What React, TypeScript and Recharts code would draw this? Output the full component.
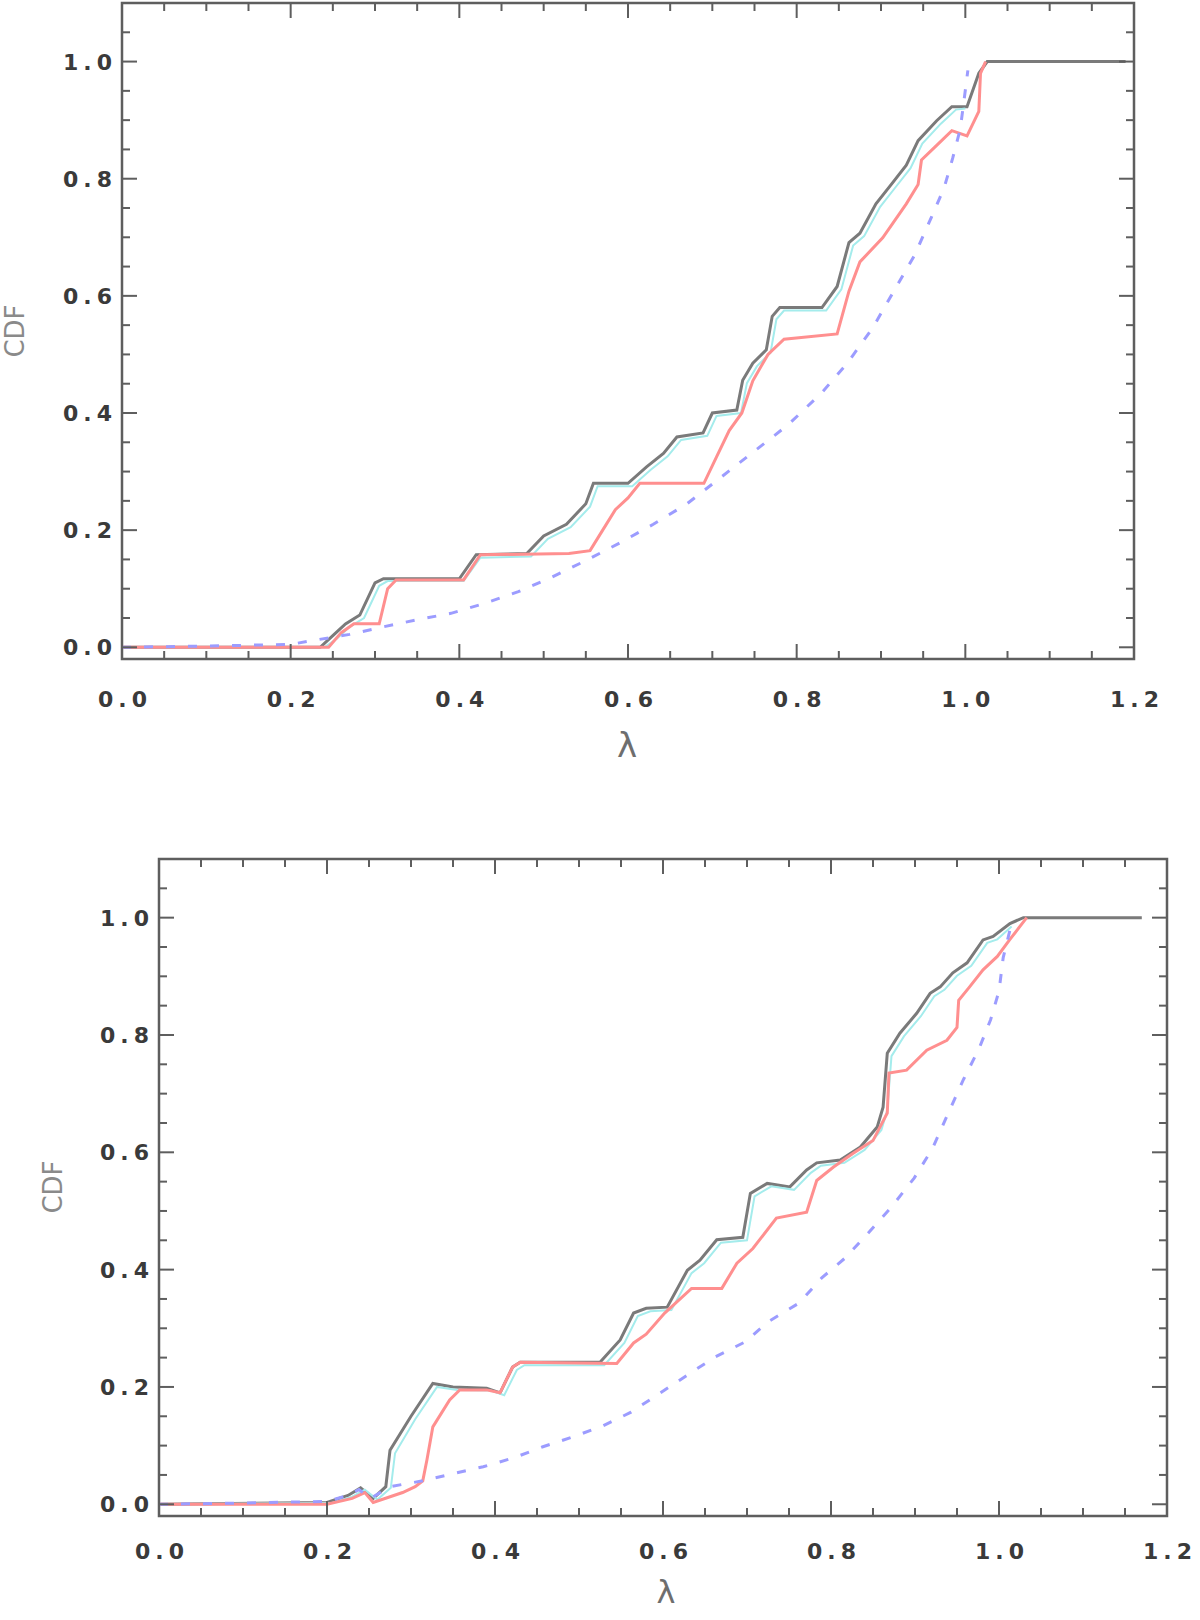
import { Line, LineChart, ReferenceArea, XAxis, YAxis } from 'recharts'

type Pt = { x: number; y: number }

// tick positions and labels (shared by both panels)
const xMajor = [0, 0.2, 0.4, 0.6, 0.8, 1.0, 1.2]
const xLabels = ['0.0', '0.2', '0.4', '0.6', '0.8', '1.0', '1.2']
const xTicks = [
  0, 0.05, 0.1, 0.15, 0.2, 0.25, 0.3, 0.35, 0.4, 0.45, 0.5, 0.55, 0.6, 0.65, 0.7, 0.75, 0.8, 0.85, 0.9,
  0.95, 1.0, 1.05, 1.1, 1.15, 1.2,
]
const yMajor = [0, 0.2, 0.4, 0.6, 0.8, 1.0]
const yLabels = ['0.0', '0.2', '0.4', '0.6', '0.8', '1.0']
const yTicks = [
  0, 0.05, 0.1, 0.15, 0.2, 0.25, 0.3, 0.35, 0.4, 0.45, 0.5, 0.55, 0.6, 0.65, 0.7, 0.75, 0.8, 0.85, 0.9,
  0.95, 1.0, 1.05,
]

const pts = (a: number[][]): Pt[] => a.map(([x, y]) => ({ x, y }))

// upper panel
const topBlack = pts([
  [0, 0], [0.235, 0], [0.25, 0.02], [0.265, 0.04], [0.282, 0.055], [0.3, 0.11], [0.31, 0.117],
  [0.4, 0.117], [0.42, 0.158], [0.48, 0.16], [0.5, 0.19], [0.527, 0.21], [0.55, 0.245], [0.559, 0.28],
  [0.6, 0.28], [0.622, 0.308], [0.642, 0.331], [0.658, 0.359], [0.689, 0.366], [0.7, 0.4], [0.729, 0.405],
  [0.736, 0.456], [0.748, 0.485], [0.764, 0.508], [0.771, 0.565], [0.78, 0.58], [0.83, 0.58],
  [0.848, 0.616], [0.862, 0.691], [0.875, 0.707], [0.894, 0.757], [0.912, 0.79], [0.93, 0.823],
  [0.944, 0.865], [0.966, 0.899], [0.984, 0.923], [1.002, 0.923], [1.016, 0.98], [1.026, 1.0], [1.19, 1.0],
])
const topCyan = pts([
  [0, 0], [0.24, 0], [0.255, 0.015], [0.27, 0.035], [0.287, 0.05], [0.305, 0.105], [0.315, 0.113],
  [0.405, 0.113], [0.425, 0.153], [0.485, 0.155], [0.505, 0.185], [0.532, 0.205], [0.555, 0.24],
  [0.564, 0.275], [0.605, 0.275], [0.627, 0.303], [0.647, 0.326], [0.663, 0.354], [0.694, 0.361],
  [0.705, 0.395], [0.734, 0.4], [0.741, 0.451], [0.753, 0.48], [0.769, 0.503], [0.776, 0.56],
  [0.785, 0.575], [0.835, 0.575], [0.853, 0.611], [0.867, 0.686], [0.88, 0.702], [0.899, 0.752],
  [0.917, 0.785], [0.935, 0.818], [0.949, 0.86], [0.971, 0.894], [0.989, 0.918], [1.0, 0.92],
])
const topRed = pts([
  [0, 0], [0.245, 0], [0.26, 0.025], [0.275, 0.04], [0.305, 0.04], [0.315, 0.1], [0.325, 0.115],
  [0.405, 0.115], [0.425, 0.158], [0.53, 0.16], [0.555, 0.165], [0.57, 0.2], [0.585, 0.235], [0.6, 0.255],
  [0.614, 0.28], [0.69, 0.28], [0.705, 0.325], [0.72, 0.37], [0.735, 0.4], [0.748, 0.455], [0.766, 0.5],
  [0.785, 0.526], [0.848, 0.535], [0.862, 0.608], [0.875, 0.658], [0.902, 0.699], [0.93, 0.757],
  [0.944, 0.79], [0.948, 0.832], [0.966, 0.857], [0.984, 0.882], [1.002, 0.873], [1.016, 0.915],
  [1.018, 0.98], [1.024, 1.0],
])
const topBlue = pts([
  [0, 0], [0.1, 0.002], [0.2, 0.005], [0.232, 0.013], [0.27, 0.022], [0.31, 0.035], [0.35, 0.047],
  [0.39, 0.058], [0.43, 0.075], [0.47, 0.095], [0.51, 0.12], [0.55, 0.148], [0.59, 0.178], [0.63, 0.21],
  [0.67, 0.245], [0.71, 0.29], [0.75, 0.335], [0.79, 0.38], [0.83, 0.435], [0.86, 0.485], [0.89, 0.545],
  [0.92, 0.62], [0.94, 0.67], [0.96, 0.735], [0.975, 0.785], [0.985, 0.835], [0.994, 0.885],
  [0.999, 0.94], [1.003, 0.985],
])

// lower panel
const botBlack = pts([
  [0, 0], [0.2, 0.003], [0.225, 0.015], [0.24, 0.028], [0.255, 0.01], [0.27, 0.03], [0.275, 0.092],
  [0.3, 0.15], [0.326, 0.206], [0.35, 0.2], [0.39, 0.198], [0.406, 0.19], [0.421, 0.234], [0.43, 0.242],
  [0.525, 0.242], [0.549, 0.28], [0.565, 0.326], [0.58, 0.334], [0.605, 0.336], [0.629, 0.399],
  [0.644, 0.416], [0.664, 0.451], [0.695, 0.455], [0.704, 0.53], [0.724, 0.547], [0.751, 0.541],
  [0.771, 0.57], [0.783, 0.582], [0.811, 0.587], [0.835, 0.609], [0.855, 0.643], [0.862, 0.677],
  [0.867, 0.769], [0.882, 0.803], [0.902, 0.837], [0.918, 0.871], [0.93, 0.882], [0.945, 0.906],
  [0.962, 0.923], [0.981, 0.962], [0.993, 0.968], [1.013, 0.99], [1.029, 1.0], [1.17, 1.0],
])
const botCyan = pts([
  [0, 0], [0.205, 0.002], [0.23, 0.013], [0.245, 0.025], [0.26, 0.008], [0.276, 0.028], [0.281, 0.087],
  [0.305, 0.145], [0.331, 0.2], [0.355, 0.195], [0.395, 0.194], [0.411, 0.186], [0.426, 0.229],
  [0.435, 0.237], [0.53, 0.237], [0.554, 0.275], [0.57, 0.321], [0.585, 0.329], [0.61, 0.331],
  [0.634, 0.394], [0.649, 0.411], [0.669, 0.446], [0.7, 0.45], [0.709, 0.525], [0.729, 0.542],
  [0.756, 0.536], [0.776, 0.565], [0.788, 0.577], [0.816, 0.582], [0.84, 0.604], [0.86, 0.638],
  [0.867, 0.672], [0.872, 0.764], [0.887, 0.798], [0.907, 0.832], [0.923, 0.866], [0.935, 0.877],
  [0.95, 0.901], [0.967, 0.918], [0.986, 0.957], [0.998, 0.963], [1.015, 0.985],
])
const botRed = pts([
  [0, 0], [0.2, 0], [0.23, 0.01], [0.245, 0.02], [0.255, 0.003], [0.29, 0.02], [0.305, 0.03],
  [0.314, 0.04], [0.319, 0.076], [0.326, 0.132], [0.346, 0.178], [0.358, 0.195], [0.39, 0.195],
  [0.406, 0.19], [0.421, 0.234], [0.43, 0.242], [0.545, 0.24], [0.565, 0.275], [0.58, 0.29],
  [0.602, 0.326], [0.634, 0.368], [0.67, 0.368], [0.688, 0.411], [0.707, 0.436], [0.735, 0.488],
  [0.771, 0.498], [0.783, 0.552], [0.803, 0.575], [0.826, 0.598], [0.85, 0.62], [0.867, 0.667],
  [0.869, 0.735], [0.89, 0.74], [0.914, 0.774], [0.938, 0.791], [0.95, 0.813], [0.952, 0.859],
  [0.965, 0.882], [0.981, 0.911], [0.998, 0.934], [1.013, 0.963], [1.033, 1.0],
])
const botBlue = pts([
  [0, 0], [0.1, 0.002], [0.2, 0.005], [0.225, 0.015], [0.238, 0.025], [0.252, 0.01], [0.275, 0.03],
  [0.314, 0.04], [0.35, 0.052], [0.386, 0.064], [0.422, 0.079], [0.457, 0.098], [0.493, 0.115],
  [0.529, 0.134], [0.562, 0.157], [0.598, 0.191], [0.634, 0.225], [0.662, 0.251], [0.698, 0.277],
  [0.725, 0.311], [0.762, 0.343], [0.789, 0.386], [0.817, 0.42], [0.844, 0.462], [0.871, 0.505],
  [0.899, 0.556], [0.921, 0.607], [0.939, 0.665], [0.958, 0.725], [0.976, 0.776], [0.99, 0.826],
  [1.0, 0.875], [1.005, 0.932], [1.015, 0.99],
])

const AXIS = '#5e5e5e'
const LABEL = '#3a3a3a'
const MAJOR = 15
const MINOR = 8
const FONT = '"DejaVu Sans", sans-serif'

function isMajor(list: number[], v: number) {
  return list.findIndex((m) => Math.abs(m - v) < 1e-6)
}

function makeXTick(plotH: number, labelDy: number) {
  return (p: any) => {
    const x = p.x ?? 0
    const y = p.y ?? 0
    const v = p.payload?.value ?? 0
    const i = isMajor(xMajor, v)
    const len = i >= 0 ? MAJOR : MINOR
    return (
      <g>
        <line x1={x} y1={y} x2={x} y2={y - len} stroke={AXIS} strokeWidth={2} />
        <line x1={x} y1={y - plotH} x2={x} y2={y - plotH + len} stroke={AXIS} strokeWidth={2} />
        {i >= 0 && (
          <text
            x={x + 3}
            y={y + labelDy}
            textAnchor="middle"
            fontFamily={FONT}
            fontWeight={700}
            fontSize={22}
            letterSpacing={5}
            fill={LABEL}
          >
            {xLabels[i]}
          </text>
        )}
      </g>
    )
  }
}

function makeYTick(plotW: number) {
  return (p: any) => {
    const x = p.x ?? 0
    const y = p.y ?? 0
    const v = p.payload?.value ?? 0
    const i = isMajor(yMajor, v)
    const len = i >= 0 ? MAJOR : MINOR
    return (
      <g>
        <line x1={x} y1={y} x2={x + len} y2={y} stroke={AXIS} strokeWidth={2} />
        <line x1={x + plotW} y1={y} x2={x + plotW - len} y2={y} stroke={AXIS} strokeWidth={2} />
        {i >= 0 && (
          <text
            x={x - 5}
            y={y + 8}
            textAnchor="end"
            fontFamily={FONT}
            fontWeight={700}
            fontSize={22}
            letterSpacing={5}
            fill={LABEL}
          >
            {yLabels[i]}
          </text>
        )}
      </g>
    )
  }
}

// margin = outer edges of the plot box; axes take 1px so that recharts draws their ticks
function Panel(props: {
  top: number
  height: number
  margin: { top: number; right: number; bottom: number; left: number }
  labelDy: number
  black: Pt[]
  cyan: Pt[]
  red: Pt[]
  blue: Pt[]
}) {
  const W = 1200
  const m = props.margin
  const plotW = W - m.left - m.right
  const plotH = props.height - m.top - m.bottom
  return (
    <div style={{ position: 'absolute', left: 0, top: props.top }}>
      <LineChart
        width={W}
        height={props.height}
        margin={{ top: m.top, right: m.right, bottom: m.bottom - 1, left: m.left - 1 }}
      >
        <XAxis
          dataKey="x"
          type="number"
          domain={[0, 1.2]}
          ticks={xTicks}
          interval={0}
          allowDataOverflow
          height={1}
          tickSize={0}
          tickMargin={0}
          axisLine={false}
          tick={makeXTick(plotH, props.labelDy)}
        />
        <YAxis
          type="number"
          domain={[-0.02, 1.1]}
          ticks={yTicks}
          interval={0}
          allowDataOverflow
          width={1}
          tickSize={0}
          tickMargin={0}
          axisLine={false}
          tick={makeYTick(plotW)}
        />
        <ReferenceArea
          x1={0}
          x2={1.2}
          y1={-0.02}
          y2={1.1}
          fill="none"
          fillOpacity={0}
          stroke={AXIS}
          strokeWidth={2.5}
          strokeOpacity={1}
        />
        <Line data={props.black} dataKey="y" stroke="#7a7a7a" strokeWidth={3} dot={false} isAnimationActive={false} />
        <Line data={props.cyan} dataKey="y" stroke="#a4ecec" strokeWidth={2} dot={false} isAnimationActive={false} />
        <Line data={props.red} dataKey="y" stroke="#ff8f8f" strokeWidth={3} dot={false} isAnimationActive={false} />
        <Line
          data={props.blue}
          dataKey="y"
          stroke="#9c9cff"
          strokeWidth={3}
          strokeDasharray="9 13"
          dot={false}
          isAnimationActive={false}
        />
      </LineChart>
    </div>
  )
}

export default function App() {
  return (
    <div
      style={{
        position: 'absolute',
        left: 0,
        top: 0,
        width: 1200,
        height: 1620,
        background: '#fff',
        overflow: 'hidden',
      }}
    >
      <Panel
        top={0}
        height={760}
        margin={{ top: 3, right: 66, bottom: 101, left: 122 }}
        labelDy={48}
        black={topBlack}
        cyan={topCyan}
        red={topRed}
        blue={topBlue}
      />
      <Panel
        top={780}
        height={840}
        margin={{ top: 79, right: 33, bottom: 104, left: 159 }}
        labelDy={43}
        black={botBlack}
        cyan={botCyan}
        red={botRed}
        blue={botBlue}
      />
      <svg width={1200} height={1620} style={{ position: 'absolute', left: 0, top: 0, pointerEvents: 'none' }}>
        <text x={627} y={757} textAnchor="middle" fontFamily={FONT} fontSize={34} fill="#6e6e6e">
          λ
        </text>
        <text x={666} y={1603} textAnchor="middle" fontFamily={FONT} fontSize={32} fill="#6e6e6e">
          λ
        </text>
        <text
          x={24}
          y={331}
          transform="rotate(-90 24 331)"
          textAnchor="middle"
          fontFamily={FONT}
          fontSize={26}
          fill="#8a8a8a"
        >
          CDF
        </text>
        <text
          x={62}
          y={1187}
          transform="rotate(-90 62 1187)"
          textAnchor="middle"
          fontFamily={FONT}
          fontSize={26}
          fill="#8a8a8a"
        >
          CDF
        </text>
      </svg>
    </div>
  )
}
